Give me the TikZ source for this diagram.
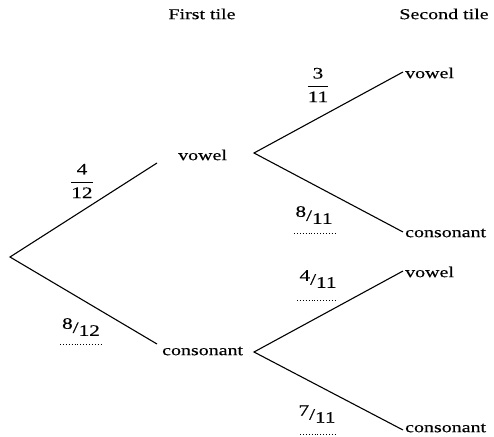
\documentclass[tikz,border=0pt]{standalone}
\usepackage{amsmath}
\usepackage{fontspec}
\setmainfont{Liberation Serif}[FakeStretch=1.33,FakeBold=0.3]
\begin{document}
\begin{tikzpicture}[x=1pt,y=-1pt,
  lbl/.style={font=\fontsize{15}{16}\selectfont, inner sep=0pt, anchor=west},
  branch/.style={line width=1.1pt, black},
  frc/.style={font=\fontsize{16}{17}\selectfont, inner sep=0pt},
  dotl/.style={dotted, line width=0.9pt}]
\useasboundingbox (0,0) rectangle (494,436);
% headers
\node[lbl, anchor=center] (h1) at (202,14) {First tile};
\node[lbl, anchor=center] (h2) at (444,14) {Second tile};
% tree points
\coordinate (r) at (10,257);
\coordinate (a1) at (157,163);
\coordinate (a2) at (157,344);
\coordinate (b1) at (254,153);
\coordinate (b2) at (254,352);
\node[lbl] (v1) at (178,155) {vowel};
\node[lbl] (c1) at (162,351) {consonant};
\node[lbl] (v2) at (405,73) {vowel};
\node[lbl] (c2) at (405,233) {consonant};
\node[lbl] (v3) at (405,272) {vowel};
\node[lbl] (c3) at (405,428) {consonant};
\coordinate (e1) at (403,72);
\coordinate (e2) at (403,232);
\coordinate (e3) at (403,271);
\coordinate (e4) at (403,430);
% branches
\draw[branch] (a1) -- (r) -- (a2);
\draw[branch] (e1) -- (b1) -- (e2);
\draw[branch] (e3) -- (b2) -- (e4);
% probabilities
\node[frc] (p1) at (82,181) {$\dfrac{\text{4}}{\text{12}}$};
\node[frc] (p2) at (318,85) {$\dfrac{\text{3}}{\text{11}}$};
\node[frc] (p3) at (81,327) {\raisebox{4pt}{8}/\raisebox{-3pt}{12}};
\node[frc] (p4) at (314,215) {\raisebox{4pt}{8}/\raisebox{-3pt}{11}};
\node[frc] (p5) at (318,279) {\raisebox{4pt}{4}/\raisebox{-3pt}{11}};
\node[frc] (p6) at (317,414) {\raisebox{4pt}{7}/\raisebox{-3pt}{11}};
\coordinate (d1a) at (60,344); \coordinate (d1b) at (102,344);
\coordinate (d2a) at (294,233); \coordinate (d2b) at (337,233);
\coordinate (d3a) at (297,300); \coordinate (d3b) at (337,300);
\coordinate (d4a) at (300,434); \coordinate (d4b) at (335,434);
\draw[dotl] (d1a) -- (d1b);
\draw[dotl] (d2a) -- (d2b);
\draw[dotl] (d3a) -- (d3b);
\draw[dotl] (d4a) -- (d4b);
\end{tikzpicture}
\end{document}
